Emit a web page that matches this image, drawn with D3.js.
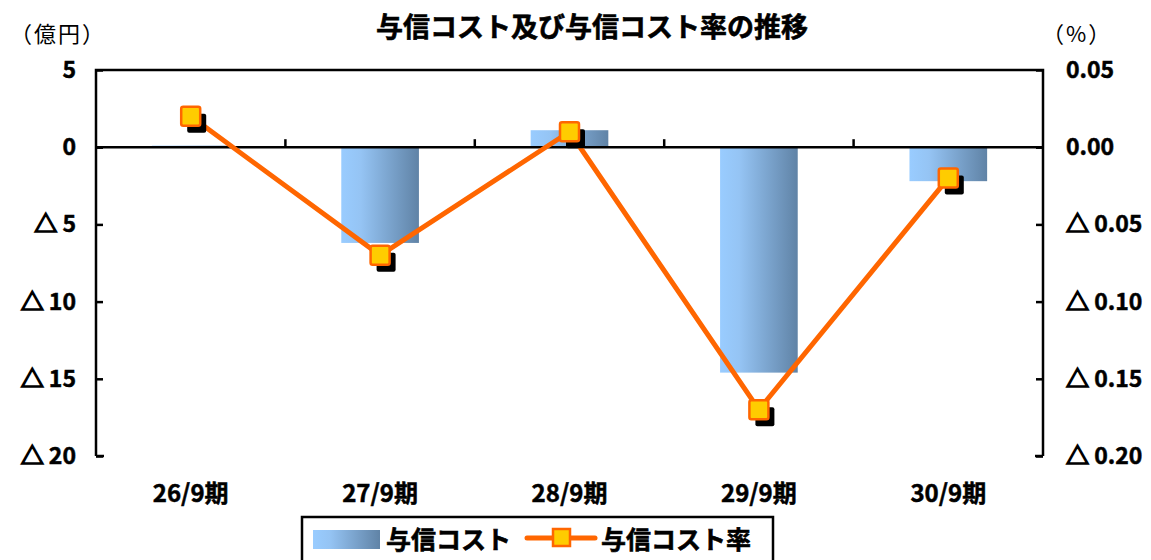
<!DOCTYPE html>
<html>
<head>
<meta charset="utf-8">
<script src="https://cdn.jsdelivr.net/npm/d3@7"></script>
<style>
  body { margin: 0; background: #fff; }
  text { font-family: "Noto Sans CJK JP", "Liberation Sans", sans-serif; }
</style>
</head>
<body>
<div id="chart"></div>
<script>
var categories = ["26/9期", "27/9期", "28/9期", "29/9期", "30/9期"];
var costValues = [0.1, -6.2, 1.1, -14.6, -2.2];      // 与信コスト（億円）
var rateValues = [0.02, -0.07, 0.01, -0.17, -0.02];  // 与信コスト率（%）
var leftTicks = [5, 0, -5, -10, -15, -20];
var rightTicks = [0.05, 0, -0.05, -0.10, -0.15, -0.20];

function init(){
    var w = 1151, h = 560;
    var left = 96, right = 1043, top = 70, bottom = 456;

    var svg = d3.select("#chart").append("svg")
                .attr("width", w).attr("height", h);

    var defs = svg.append("defs");
    var grad = defs.append("linearGradient").attr("id", "barGrad")
                   .attr("x1", "0%").attr("x2", "100%").attr("y1", "0%").attr("y2", "0%");
    grad.append("stop").attr("offset", "0%").attr("stop-color", "#99CCFF");
    grad.append("stop").attr("offset", "25%").attr("stop-color", "#95C4F4");
    grad.append("stop").attr("offset", "100%").attr("stop-color", "#6083A6");

    var x = d3.scaleBand().domain(categories).range([left, right]);
    var yL = d3.scaleLinear().domain([-20, 5]).range([bottom, top]);
    var yR = d3.scaleLinear().domain([-0.20, 0.05]).range([bottom, top]);

    // negative numbers are shown with a triangle
    function addLabel(sel, d, fmt){
        if (d < 0) {
            sel.append("tspan").attr("stroke", "#000").attr("stroke-width", 1.6).text("△");
            sel.append("tspan").text(" " + fmt(Math.abs(d)));
        } else {
            sel.text(fmt(d));
        }
    }

    // bars
    var bw = x.bandwidth() * 0.41;
    svg.selectAll("rect.bar").data(costValues).enter().append("rect")
       .attr("class", "bar")
       .attr("x", function(d, i){ return x(categories[i]) + x.bandwidth()/2 - bw/2; })
       .attr("y", function(d){ return yL(Math.max(0, d)); })
       .attr("width", bw)
       .attr("height", function(d){ return Math.abs(yL(d) - yL(0)); })
       .attr("fill", "url(#barGrad)");

    // plot frame: left, top, right
    svg.append("path")
       .attr("d", "M" + left + "," + bottom + "V" + top + "H" + right + "V" + bottom)
       .attr("fill", "none").attr("stroke", "#000").attr("stroke-width", 2.5);
    svg.append("line").attr("x1", left).attr("x2", left + 8)
       .attr("y1", bottom).attr("y2", bottom).attr("stroke", "#000").attr("stroke-width", 2.5);
    svg.append("line").attr("x1", right - 8).attr("x2", right)
       .attr("y1", bottom).attr("y2", bottom).attr("stroke", "#000").attr("stroke-width", 2.5);

    // left axis
    var gL = svg.append("g").attr("transform", "translate(" + left + ",0)")
                .call(d3.axisRight(yL).tickValues(leftTicks).tickSize(7).tickFormat(""));
    gL.select(".domain").remove();
    gL.selectAll(".tick line").attr("stroke-width", 2.5);
    svg.selectAll("text.lt").data(leftTicks).enter().append("text")
       .attr("class", "lt")
       .attr("x", 76).attr("y", function(d){ return yL(d) + 8; })
       .attr("text-anchor", "end")
       .attr("font-size", 23).attr("font-weight", "bold")
       .attr("stroke", "#000").attr("stroke-width", 0.5)
       .each(function(d){ addLabel(d3.select(this), d, String); });

    // right axis
    var gR = svg.append("g").attr("transform", "translate(" + right + ",0)")
                .call(d3.axisLeft(yR).tickValues(rightTicks).tickSize(7).tickFormat(""));
    gR.select(".domain").remove();
    gR.selectAll(".tick line").attr("stroke-width", 2.5);
    svg.selectAll("text.rt").data(rightTicks).enter().append("text")
       .attr("class", "rt")
       .attr("x", 1066).attr("y", function(d){ return yR(d) + 8; })
       .attr("font-size", 23).attr("font-weight", "bold")
       .attr("stroke", "#000").attr("stroke-width", 0.5)
       .each(function(d){ addLabel(d3.select(this), d, function(v){ return v.toFixed(2); }); });

    // zero line with category ticks
    svg.append("line").attr("x1", left).attr("x2", right)
       .attr("y1", yL(0)).attr("y2", yL(0))
       .attr("stroke", "#000").attr("stroke-width", 2.5);
    svg.selectAll("line.ct").data(categories.slice(1)).enter().append("line")
       .attr("class", "ct")
       .attr("x1", function(d){ return x(d); }).attr("x2", function(d){ return x(d); })
       .attr("y1", yL(0)).attr("y2", yL(0) - 8)
       .attr("stroke", "#000").attr("stroke-width", 2.5);

    // category labels
    svg.selectAll("text.cat").data(categories).enter().append("text")
       .attr("class", "cat")
       .attr("x", function(d){ return x(d) + x.bandwidth()/2; })
       .attr("y", 502)
       .attr("text-anchor", "middle")
       .attr("font-size", 24).attr("font-weight", "bold")
       .attr("stroke", "#000").attr("stroke-width", 0.5)
       .text(function(d){ return d; });

    // line series
    var line = d3.line()
                 .x(function(d, i){ return x(categories[i]) + x.bandwidth()/2; })
                 .y(function(d){ return yR(d); });
    svg.append("path").datum(rateValues)
       .attr("d", line).attr("fill", "none")
       .attr("stroke", "#FF6600").attr("stroke-width", 5).attr("stroke-linejoin", "round");

    var ms = 19;
    var pts = svg.selectAll("g.pt").data(rateValues).enter().append("g")
                 .attr("class", "pt")
                 .attr("transform", function(d, i){
                     return "translate(" + (x(categories[i]) + x.bandwidth()/2) + "," + yR(d) + ")";
                 });
    pts.append("rect").attr("x", -ms/2 + 6).attr("y", -ms/2 + 7)
       .attr("width", ms).attr("height", ms).attr("rx", 2).attr("fill", "#000");
    pts.append("rect").attr("x", -ms/2).attr("y", -ms/2)
       .attr("width", ms).attr("height", ms).attr("rx", 2)
       .attr("fill", "#FFCC00").attr("stroke", "#FF6600").attr("stroke-width", 2.5);

    // titles
    svg.append("text").attr("x", 592).attr("y", 37)
       .attr("text-anchor", "middle").attr("font-size", 27).attr("font-weight", "bold")
       .attr("stroke", "#000").attr("stroke-width", 0.6)
       .text("与信コスト及び与信コスト率の推移");
    svg.append("text").attr("x", 10).attr("y", 42).attr("font-size", 22)
       .attr("letter-spacing", 2)
       .text("（億円）");
    svg.append("text").attr("x", 1042).attr("y", 42).attr("font-size", 22)
       .attr("letter-spacing", 2)
       .text("（%）");

    // legend
    var lg = svg.append("g");
    lg.append("rect").attr("x", 302).attr("y", 517).attr("width", 471).attr("height", 60)
      .attr("fill", "#fff").attr("stroke", "#000").attr("stroke-width", 2.5);
    lg.append("rect").attr("x", 313).attr("y", 530).attr("width", 67).attr("height", 19)
      .attr("fill", "url(#barGrad)");
    lg.append("text").attr("x", 386).attr("y", 549)
      .attr("font-size", 25).attr("font-weight", "bold")
      .attr("stroke", "#000").attr("stroke-width", 0.6).text("与信コスト");
    lg.append("line").attr("x1", 527).attr("x2", 595).attr("y1", 538).attr("y2", 538)
      .attr("stroke", "#FF6600").attr("stroke-width", 5).attr("stroke-linecap", "round");
    lg.append("rect").attr("x", 561 - 8).attr("y", 538 - 9).attr("width", 17).attr("height", 17)
      .attr("fill", "#FFCC00").attr("stroke", "#FF6600").attr("stroke-width", 2.5);
    lg.append("text").attr("x", 601).attr("y", 549)
      .attr("font-size", 25).attr("font-weight", "bold")
      .attr("stroke", "#000").attr("stroke-width", 0.6).text("与信コスト率");
}
window.onload = init;
</script>
</body>
</html>
